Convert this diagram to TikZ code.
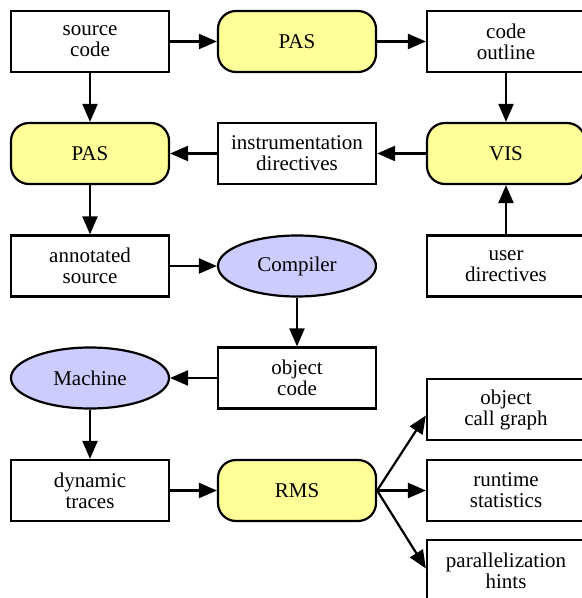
\documentclass[tikz,border=0pt]{standalone}
\usepackage{fontspec}
\setmainfont{Liberation Serif}
\usetikzlibrary{arrows.meta,shapes.geometric}
\definecolor{toolyellow}{RGB}{255,255,153}
\definecolor{runblue}{RGB}{204,204,255}
\tikzset{
  file/.style={draw, line width=2.2bp, fill=white, minimum width=158bp, minimum height=61bp, align=center, inner sep=0pt, font=\rmfamily\fontsize{21bp}{21bp}\selectfont},
  tool/.style={file, fill=toolyellow, rounded corners=18bp},
  engine/.style={file, ellipse, fill=runblue},
  wire/.style={line width=2.2bp, -{Triangle[length=18bp,width=15bp]}}
}

\begin{document}
\begin{tikzpicture}[x=1bp, y=-1bp]
        % Paths, nodes and wires:
        \useasboundingbox (0,0) rectangle (582,598);
        \draw node[file] (N1) at (90, 41.5) {source\\code};
        \draw node[tool] (N2) at (297, 41.5) {PAS};
        \draw node[file] (N3) at (506, 41.5) {code\\outline};
        \draw node[tool] (N4) at (90, 153.5) {PAS};
        \draw node[file] (N5) at (297, 153.5) {instrumentation\\directives};
        \draw node[tool] (N6) at (506, 153.5) {VIS};
        \draw node[file] (N7) at (90, 266) {annotated\\source};
        \draw node[engine] (N8) at (297, 266) {Compiler};
        \draw node[file] (N9) at (506, 266) {user\\directives};
        \draw node[file] (N10) at (297, 378) {object\\code};
        \draw node[engine] (N11) at (90, 378) {Machine};
        \draw node[file] (N12) at (506, 409.5) {object\\call graph};
        \draw node[file] (N13) at (90, 490.5) {dynamic\\traces};
        \draw node[tool] (N14) at (297, 490.5) {RMS};
        \draw node[file] (N15) at (506, 490.5) {runtime\\statistics};
        \draw node[file] (N16) at (506, 570.5) {parallelization\\hints};
        \draw[wire] (N1) -- (N2);
        \draw[wire] (N2) -- (N3);
        \draw[wire] (N1) -- (N4);
        \draw[wire] (N3) -- (N6);
        \draw[wire] (N6) -- (N5);
        \draw[wire] (N5) -- (N4);
        \draw[wire] (N9) -- (N6);
        \draw[wire] (N4) -- (N7);
        \draw[wire] (N7) -- (N8);
        \draw[wire] (N8) -- (N10);
        \draw[wire] (N10) -- (N11);
        \draw[wire] (N11) -- (N13);
        \draw[wire] (N13) -- (N14);
        \draw[wire] (N14.east) -- ([yshift=-6bp]N12.west);
        \draw[wire] (N14.east) -- (N15.west);
        \draw[wire] (N14.east) -- ([yshift=2bp]N16.west);
\end{tikzpicture}
\end{document}
